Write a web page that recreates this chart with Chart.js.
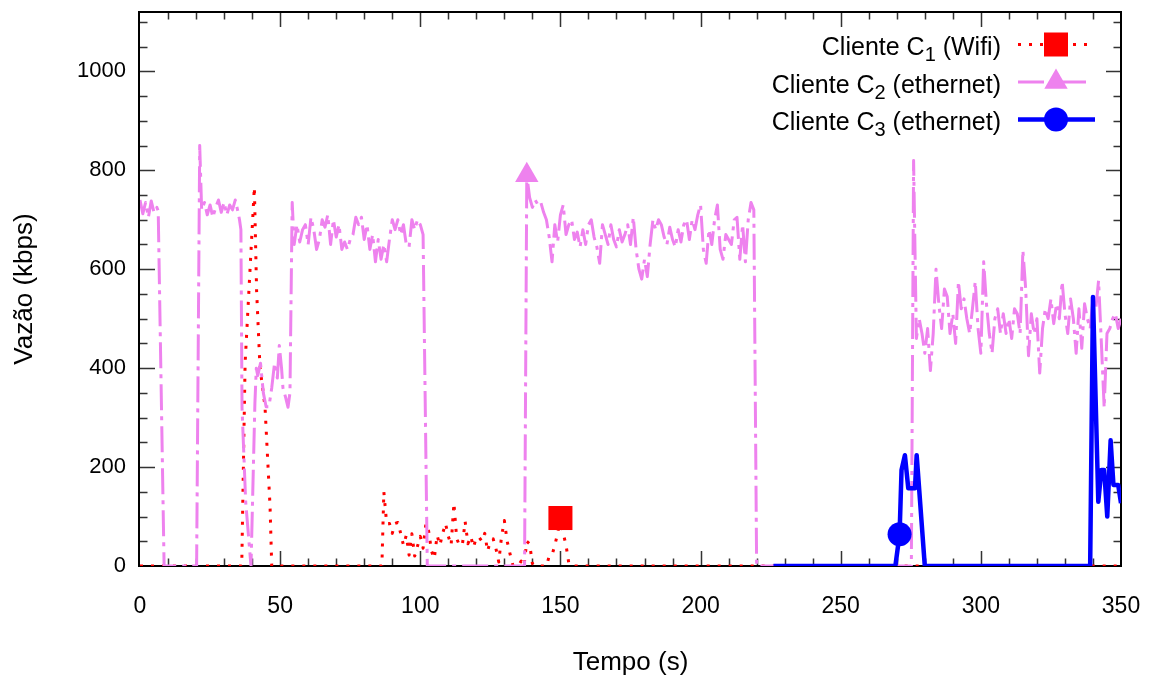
<!DOCTYPE html>
<html lang="pt-BR">
<head>
    <title>Vazão dos clientes</title>
    <meta charset="UTF-8">
    <script src="https://cdn.jsdelivr.net/npm/chart.js"></script>
    <style>
        body {
            margin: 0;
            padding: 0;
            background: white;
        }
        #grafico {
            display: block;
        }
    </style>
</head>
<body>
    <canvas id="grafico" width="1152" height="679"></canvas>

    <script>
        // Ticks dos eixos
        var tempoTicks = [0, 50, 100, 150, 200, 250, 300, 350];
        var vazaoTicks = [0, 200, 400, 600, 800, 1000];

        // Textos da legenda: nome, subscrito, resto
        var legendaTexto = [
            ['Cliente C', '1', ' (Wifi)'],
            ['Cliente C', '2', ' (ethernet)'],
            ['Cliente C', '3', ' (ethernet)']
        ];

        // Cliente C1 (Wifi)
        var c1Tempo = [0, 36.3, 37.5, 40.8, 41.6, 42.8, 44.6, 46.4, 47, 86.3,
            87, 88, 89, 90, 91, 92, 93, 94, 95, 96, 97, 98, 99, 100, 101, 102, 103, 104, 105, 106,
            107, 108, 109, 110, 111, 112, 113, 114, 115, 116, 117, 118, 119, 120, 121, 122, 123, 124, 125, 126,
            127, 128, 129, 130, 131, 132, 133, 134, 135, 136, 137, 138, 139, 140, 141,
            145, 146, 147, 148, 149, 150, 151, 152, 153, 154, 350];
        var c1Vazao = [0, 0, 410, 766, 557, 402, 322, 120, 0, 0,
            150, 86, 86, 66, 86, 88, 66, 42, 62, 22, 65, 20, 40, 60, 36, 86, 70, 30, 15, 62,
            42, 66, 86, 60, 42, 127, 55, 42, 42, 90, 45, 60, 38, 58, 58, 50, 66, 30, 50, 55,
            35, 8, 60, 92, 50, 25, 2, 0, 0, 10, 0, 50, 45, 5, 0,
            0, 20, 22, 42, 66, 97, 66, 42, 5, 0, 0];
        var c1Marcador = 150;

        // Cliente C2 (ethernet)
        var c2Tempo = [0, 1, 2, 3, 4, 5, 6, 6.5, 8.6, 20.2, 21.3, 22,
            23, 24, 25, 26, 27, 28, 29, 30, 31, 32, 33, 34, 35,
            35.5, 36, 36.4, 37.7, 39.6, 41, 41.5, 42, 43, 44, 45, 46, 47, 48, 49, 49.7, 50.5, 51, 52, 52.8, 53.5, 54.3,
            55, 56, 57, 58, 59, 60, 61, 62, 63, 64, 65, 66, 67, 68, 69, 70, 71, 72, 73, 74,
            75, 76, 77, 78, 79, 80, 81, 82, 83, 84, 85, 86, 87, 88, 89, 90, 91, 92, 93, 94,
            95, 96, 97, 98, 99, 100, 101,
            102.5, 137.2, 138,
            139, 140, 141, 142, 143, 144, 145, 146, 147, 148, 149, 150, 151, 152, 153, 154, 155, 156, 157, 158,
            159, 160, 161, 162, 163, 164, 165, 166, 167, 168, 169, 170, 171, 172, 173, 174, 175, 176, 177, 178,
            179, 180, 181, 182, 183, 184, 185, 186, 187, 188, 189, 190, 191, 192, 193, 194, 195, 196, 197, 198,
            199, 200, 201, 202, 203, 204, 205, 206, 207, 208, 209, 210, 211, 212, 213, 214, 215, 216, 217, 218,
            219,
            220, 275.2, 276,
            277, 278, 279, 280, 281, 282, 283, 284, 285, 286, 287, 288, 289, 290, 291, 292, 293, 294, 295, 296,
            297, 298, 299, 300, 301, 302, 303, 304, 305, 306, 307, 308, 309, 310, 311, 312, 313, 314, 315, 316,
            317, 318, 319, 320, 321, 322, 323, 324, 325, 326, 327, 328, 329, 330, 331, 332, 333, 334, 335, 336,
            337, 338, 339, 340, 341, 342, 343, 344, 345, 346, 347, 348, 349, 350];
        var c2Vazao = [740, 712, 735, 705, 738, 715, 725, 718, 0, 0, 850, 720,
            735, 710, 730, 705, 725, 740, 715, 735, 710, 730, 720, 740, 715,
            700, 680, 320, 130, 0, 330, 400, 385, 410, 350, 322, 322, 360, 410, 380, 446, 400, 360, 340, 321, 350, 735,
            650, 690, 655, 680, 690, 650, 705, 680, 640, 660, 700, 685, 710, 650, 700, 665, 690, 640, 655, 640,
            660, 670, 705, 690, 705, 660, 690, 640, 670, 615, 660, 620, 650, 615, 660, 700, 680, 700, 670, 690,
            650, 645, 700, 680, 700, 690, 670,
            0, 0, 790,
            745, 725, 740, 730, 735, 715, 700, 665, 615, 690, 655, 710, 730, 670, 690, 700, 660, 675, 645, 680,
            650, 690, 700, 665, 645, 612, 690, 670, 650, 690, 660, 645, 680, 655, 670, 690, 650, 705, 640, 600,
            580, 620, 585, 650, 700, 680, 700, 690, 665, 650, 685, 660, 645, 680, 655, 690, 700, 660, 700, 680,
            710, 730, 640, 612, 680, 650, 700, 730, 640, 620, 670, 660, 650, 700, 705, 620, 690, 615, 700, 735,
            720,
            0, 0, 820,
            460, 500, 470, 430, 480, 395, 470, 600, 530, 480, 560, 545, 470, 510, 450, 575, 520, 540, 500, 470,
            520, 575, 480, 430, 615, 530, 470, 430, 500, 520, 470, 510, 470, 500, 460, 520, 510, 470, 638, 560,
            425, 510, 470, 500, 390, 480, 520, 500, 540, 490, 530, 500, 575, 510, 470, 540, 500, 430, 520, 440,
            530, 500, 480, 540, 520, 577, 450, 320, 470, 480, 500, 510, 480, 500];
        var c2Marcador = 138;

        // Cliente C3 (ethernet)
        var c3Tempo = [226, 269.5, 271, 271.7, 272.9, 274.1, 276.5, 277.1, 280,
            339, 340, 341.9, 343, 344, 345.1, 346.3, 347.3, 349, 350];
        var c3Vazao = [0, 0, 64, 194, 224, 157, 157, 224, 0,
            0, 544, 130, 194, 194, 100, 254, 164, 164, 127];
        var c3Marcador = 271;

        var fonte = '"Liberation Sans", Arial, sans-serif';

        function pontos(tempo, vazao) {
            return tempo.map(function (t, i) {
                return { x: t, y: vazao[i] };
            });
        }

        function raioMarcador(tempoMarcado, raio) {
            return function (ctx) {
                return ctx.raw && ctx.raw.x === tempoMarcado ? raio : 0;
            };
        }

        // Moldura e ticks para dentro, estilo gnuplot
        var moldura = {
            id: 'moldura',
            beforeDatasetsDraw: function (chart) {
                var ctx = chart.ctx;
                var a = chart.chartArea;
                var x = chart.scales.x;
                var y = chart.scales.y;
                ctx.save();
                ctx.strokeStyle = '#333';
                ctx.lineWidth = 1.5;
                ctx.beginPath();
                for (var v = 10; v < 350; v += 10) {
                    var px = Math.round(x.getPixelForValue(v)) + 0.5;
                    var len = v % 50 === 0 ? 15 : 7.5;
                    ctx.moveTo(px, a.bottom);
                    ctx.lineTo(px, a.bottom - len);
                    ctx.moveTo(px, a.top);
                    ctx.lineTo(px, a.top + len);
                }
                for (var w = 50; w <= 1100; w += 50) {
                    var py = Math.round(y.getPixelForValue(w)) + 0.5;
                    var len2 = w % 200 === 0 ? 15 : 7.5;
                    ctx.moveTo(a.left, py);
                    ctx.lineTo(a.left + len2, py);
                    ctx.moveTo(a.right, py);
                    ctx.lineTo(a.right - len2, py);
                }
                ctx.stroke();
                ctx.strokeStyle = '#000';
                ctx.lineWidth = 2;
                ctx.strokeRect(a.left - 1, a.top, a.right - a.left + 1, a.bottom - a.top);
                ctx.restore();
            }
        };

        // Legenda no canto superior direito
        var legenda = {
            id: 'legenda',
            afterDraw: function (chart) {
                var ctx = chart.ctx;
                var fimTexto = 1001;
                var linhaIni = 1018;
                var linhaFim = 1087;
                var marcaX = 1056;
                var bases = [55, 92.5, 130];
                ctx.save();
                chart.data.datasets.forEach(function (ds, i) {
                    var partes = legendaTexto[i];
                    var base = bases[i];
                    ctx.font = '25px ' + fonte;
                    var w1 = ctx.measureText(partes[0]).width;
                    var w3 = ctx.measureText(partes[2]).width;
                    ctx.font = '20px ' + fonte;
                    var w2 = ctx.measureText(partes[1]).width;
                    var xi = fimTexto - (w1 + w2 + w3);
                    ctx.fillStyle = '#000';
                    ctx.textBaseline = 'alphabetic';
                    ctx.textAlign = 'left';
                    ctx.font = '25px ' + fonte;
                    ctx.fillText(partes[0], xi, base);
                    ctx.font = '20px ' + fonte;
                    ctx.fillText(partes[1], xi + w1, base + 6);
                    ctx.font = '25px ' + fonte;
                    ctx.fillText(partes[2], xi + w1 + w2, base);

                    var yl = base - 10.5;
                    ctx.strokeStyle = ds.borderColor;
                    ctx.lineWidth = ds.borderWidth;
                    ctx.lineCap = 'butt';
                    ctx.setLineDash(ds.borderDash || []);
                    ctx.beginPath();
                    ctx.moveTo(linhaIni, yl);
                    ctx.lineTo(i === 2 ? linhaFim + 8 : linhaFim, yl);
                    ctx.stroke();
                    ctx.setLineDash([]);

                    ctx.fillStyle = ds.borderColor;
                    ctx.beginPath();
                    if (ds.pointStyle === 'rect') {
                        ctx.rect(marcaX - 12, yl - 12, 24, 24);
                    } else if (ds.pointStyle === 'triangle') {
                        var r = 13.5;
                        ctx.moveTo(marcaX, yl - r);
                        ctx.lineTo(marcaX + r * 0.866, yl + r / 2);
                        ctx.lineTo(marcaX - r * 0.866, yl + r / 2);
                        ctx.closePath();
                    } else {
                        ctx.arc(marcaX, yl, 12, 0, Math.PI * 2);
                    }
                    ctx.fill();
                });
                ctx.restore();
            }
        };

        function semSeparador(valor) {
            return String(valor);
        }

        var ctx = document.getElementById('grafico').getContext('2d');
        var grafico = new Chart(ctx, {
            type: 'line',
            data: {
                datasets: [
                    {
                        label: 'Cliente C1 (Wifi)',
                        data: pontos(c1Tempo, c1Vazao),
                        borderColor: '#ff0000',
                        backgroundColor: '#ff0000',
                        borderWidth: 3,
                        borderDash: [3, 8],
                        borderCapStyle: 'butt',
                        pointStyle: 'rect',
                        pointRadius: raioMarcador(c1Marcador, 17),
                        pointHoverRadius: raioMarcador(c1Marcador, 17),
                        pointBackgroundColor: '#ff0000',
                        pointBorderWidth: 0,
                        order: 2
                    },
                    {
                        label: 'Cliente C2 (ethernet)',
                        data: pontos(c2Tempo, c2Vazao),
                        borderColor: '#ee82ee',
                        backgroundColor: '#ee82ee',
                        borderWidth: 3,
                        borderDash: [26, 6, 4, 6],
                        borderCapStyle: 'butt',
                        pointStyle: 'triangle',
                        pointRadius: raioMarcador(c2Marcador, 13.5),
                        pointHoverRadius: raioMarcador(c2Marcador, 13.5),
                        pointBackgroundColor: '#ee82ee',
                        pointBorderWidth: 0,
                        order: 1
                    },
                    {
                        label: 'Cliente C3 (ethernet)',
                        data: pontos(c3Tempo, c3Vazao),
                        borderColor: '#0000ff',
                        backgroundColor: '#0000ff',
                        borderWidth: 4.5,
                        pointStyle: 'circle',
                        pointRadius: raioMarcador(c3Marcador, 12),
                        pointHoverRadius: raioMarcador(c3Marcador, 12),
                        pointBackgroundColor: '#0000ff',
                        pointBorderWidth: 0,
                        order: 0
                    }
                ]
            },
            options: {
                responsive: false,
                animation: false,
                events: [],
                layout: {
                    padding: { left: 0, right: 31, top: 12, bottom: 0 }
                },
                elements: {
                    line: { tension: 0, borderJoinStyle: 'round' }
                },
                plugins: {
                    legend: { display: false },
                    tooltip: { enabled: false }
                },
                scales: {
                    x: {
                        type: 'linear',
                        min: 0,
                        max: 350,
                        grid: { display: false, drawTicks: false },
                        border: { display: false },
                        afterBuildTicks: function (scale) {
                            scale.ticks = tempoTicks.map(function (v) { return { value: v }; });
                        },
                        afterFit: function (scale) {
                            scale.height = 113;
                            scale.paddingLeft = 0;
                            scale.paddingRight = 0;
                        },
                        ticks: {
                            color: '#000',
                            padding: 27,
                            maxRotation: 0,
                            autoSkip: false,
                            callback: semSeparador,
                            font: { family: fonte, size: 23 }
                        },
                        title: {
                            display: true,
                            text: 'Tempo (s)',
                            color: '#000',
                            padding: { top: 0, bottom: 1 },
                            font: { family: fonte, size: 26 }
                        }
                    },
                    y: {
                        min: 0,
                        max: 1120,
                        grid: { display: false, drawTicks: false },
                        border: { display: false },
                        afterBuildTicks: function (scale) {
                            scale.ticks = vazaoTicks.map(function (v) { return { value: v }; });
                        },
                        afterFit: function (scale) {
                            scale.width = 140;
                            scale.paddingTop = 0;
                            scale.paddingBottom = 0;
                        },
                        ticks: {
                            color: '#000',
                            padding: 14,
                            autoSkip: false,
                            callback: semSeparador,
                            font: { family: fonte, size: 22 }
                        },
                        title: {
                            display: true,
                            text: 'Vazão (kbps)',
                            color: '#000',
                            padding: { top: 9, bottom: 0 },
                            font: { family: fonte, size: 26 }
                        }
                    }
                }
            },
            plugins: [moldura, legenda]
        });
    </script>
</body>
</html>
